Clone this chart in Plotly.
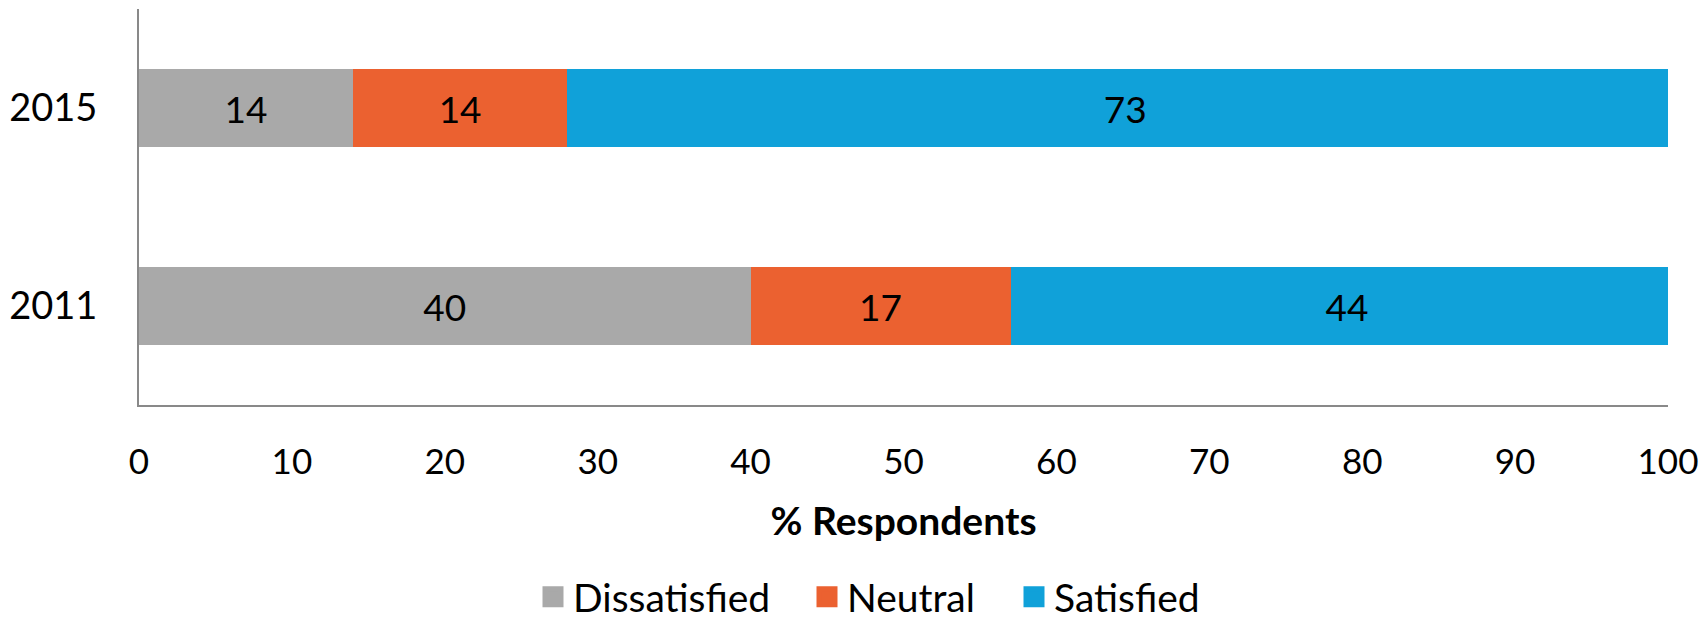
import plotly.graph_objects as go

years = ["2011", "2015"]
dissatisfied = [40, 14]
neutral = [17, 14]
satisfied = [44, 73]
series_names = ["Dissatisfied", "Neutral", "Satisfied"]
colors = ["#A9A9A9", "#EB6130", "#10A1D9"]
x_ticks = [0, 10, 20, 30, 40, 50, 60, 70, 80, 90, 100]

FONT = "Lato"
W, H = 1707, 625
legend_ids = ["legend", "legend2", "legend3"]
legend_left_px = [533, 807, 1014]

fig = go.Figure()
for name, vals, col, lg in zip(series_names, [dissatisfied, neutral, satisfied], colors, legend_ids):
    fig.add_trace(go.Bar(
        y=years, x=vals, name=name, orientation="h",
        marker=dict(color=col, line=dict(width=0)),
        text=vals, texttemplate="%{text}", textposition="inside",
        insidetextanchor="middle",
        textfont=dict(family=FONT, size=37, color="black"),
        cliponaxis=True, showlegend=False, legendgroup=name,
    ))
    # legend entry (square swatch)
    fig.add_trace(go.Scatter(
        x=[None], y=[None], mode="markers", name=name, legendgroup=name,
        marker=dict(symbol="square", size=16, color=col, line=dict(color=col, width=5)),
        showlegend=True, legend=lg, hoverinfo="skip",
    ))

legend_common = dict(orientation="h", xref="container", xanchor="left",
                     yref="container", y=1 - 597 / H, yanchor="middle",
                     font=dict(family=FONT, size=39, color="black"),
                     itemwidth=30, bgcolor="rgba(0,0,0,0)", borderwidth=0)
layout_legends = {}
for lg, px in zip(legend_ids, legend_left_px):
    layout_legends[lg] = dict(legend_common, x=px / W)

fig.update_layout(
    barmode="stack",
    bargap=0.606,
    width=W, height=H,
    margin=dict(l=136, r=35, t=9, b=220),
    paper_bgcolor="white", plot_bgcolor="white",
    font=dict(family=FONT, size=37, color="black"),
    showlegend=True,
    uniformtext=dict(mode="show", minsize=37),
    **layout_legends,
)
fig.update_xaxes(
    range=[0, 100], tickvals=x_ticks, ticks="", showgrid=False, zeroline=False,
    showline=True, linecolor="#898989", linewidth=2,
    tickfont=dict(family=FONT, size=35), ticklabelstandoff=25,
    title=dict(text="<b>% Respondents</b>", font=dict(family=FONT, size=39), standoff=28),
)
fig.update_yaxes(
    type="category", categoryorder="array", categoryarray=years,
    range=[-0.5, 1.5], ticks="", showgrid=False, zeroline=False,
    showline=True, linecolor="#898989", linewidth=2,
    tickfont=dict(family=FONT, size=38), ticklabelstandoff=32,
)
fig.write_html("out.html", config={"displayModeBar": False},
               post_script="document.body.style.margin='0px';")
